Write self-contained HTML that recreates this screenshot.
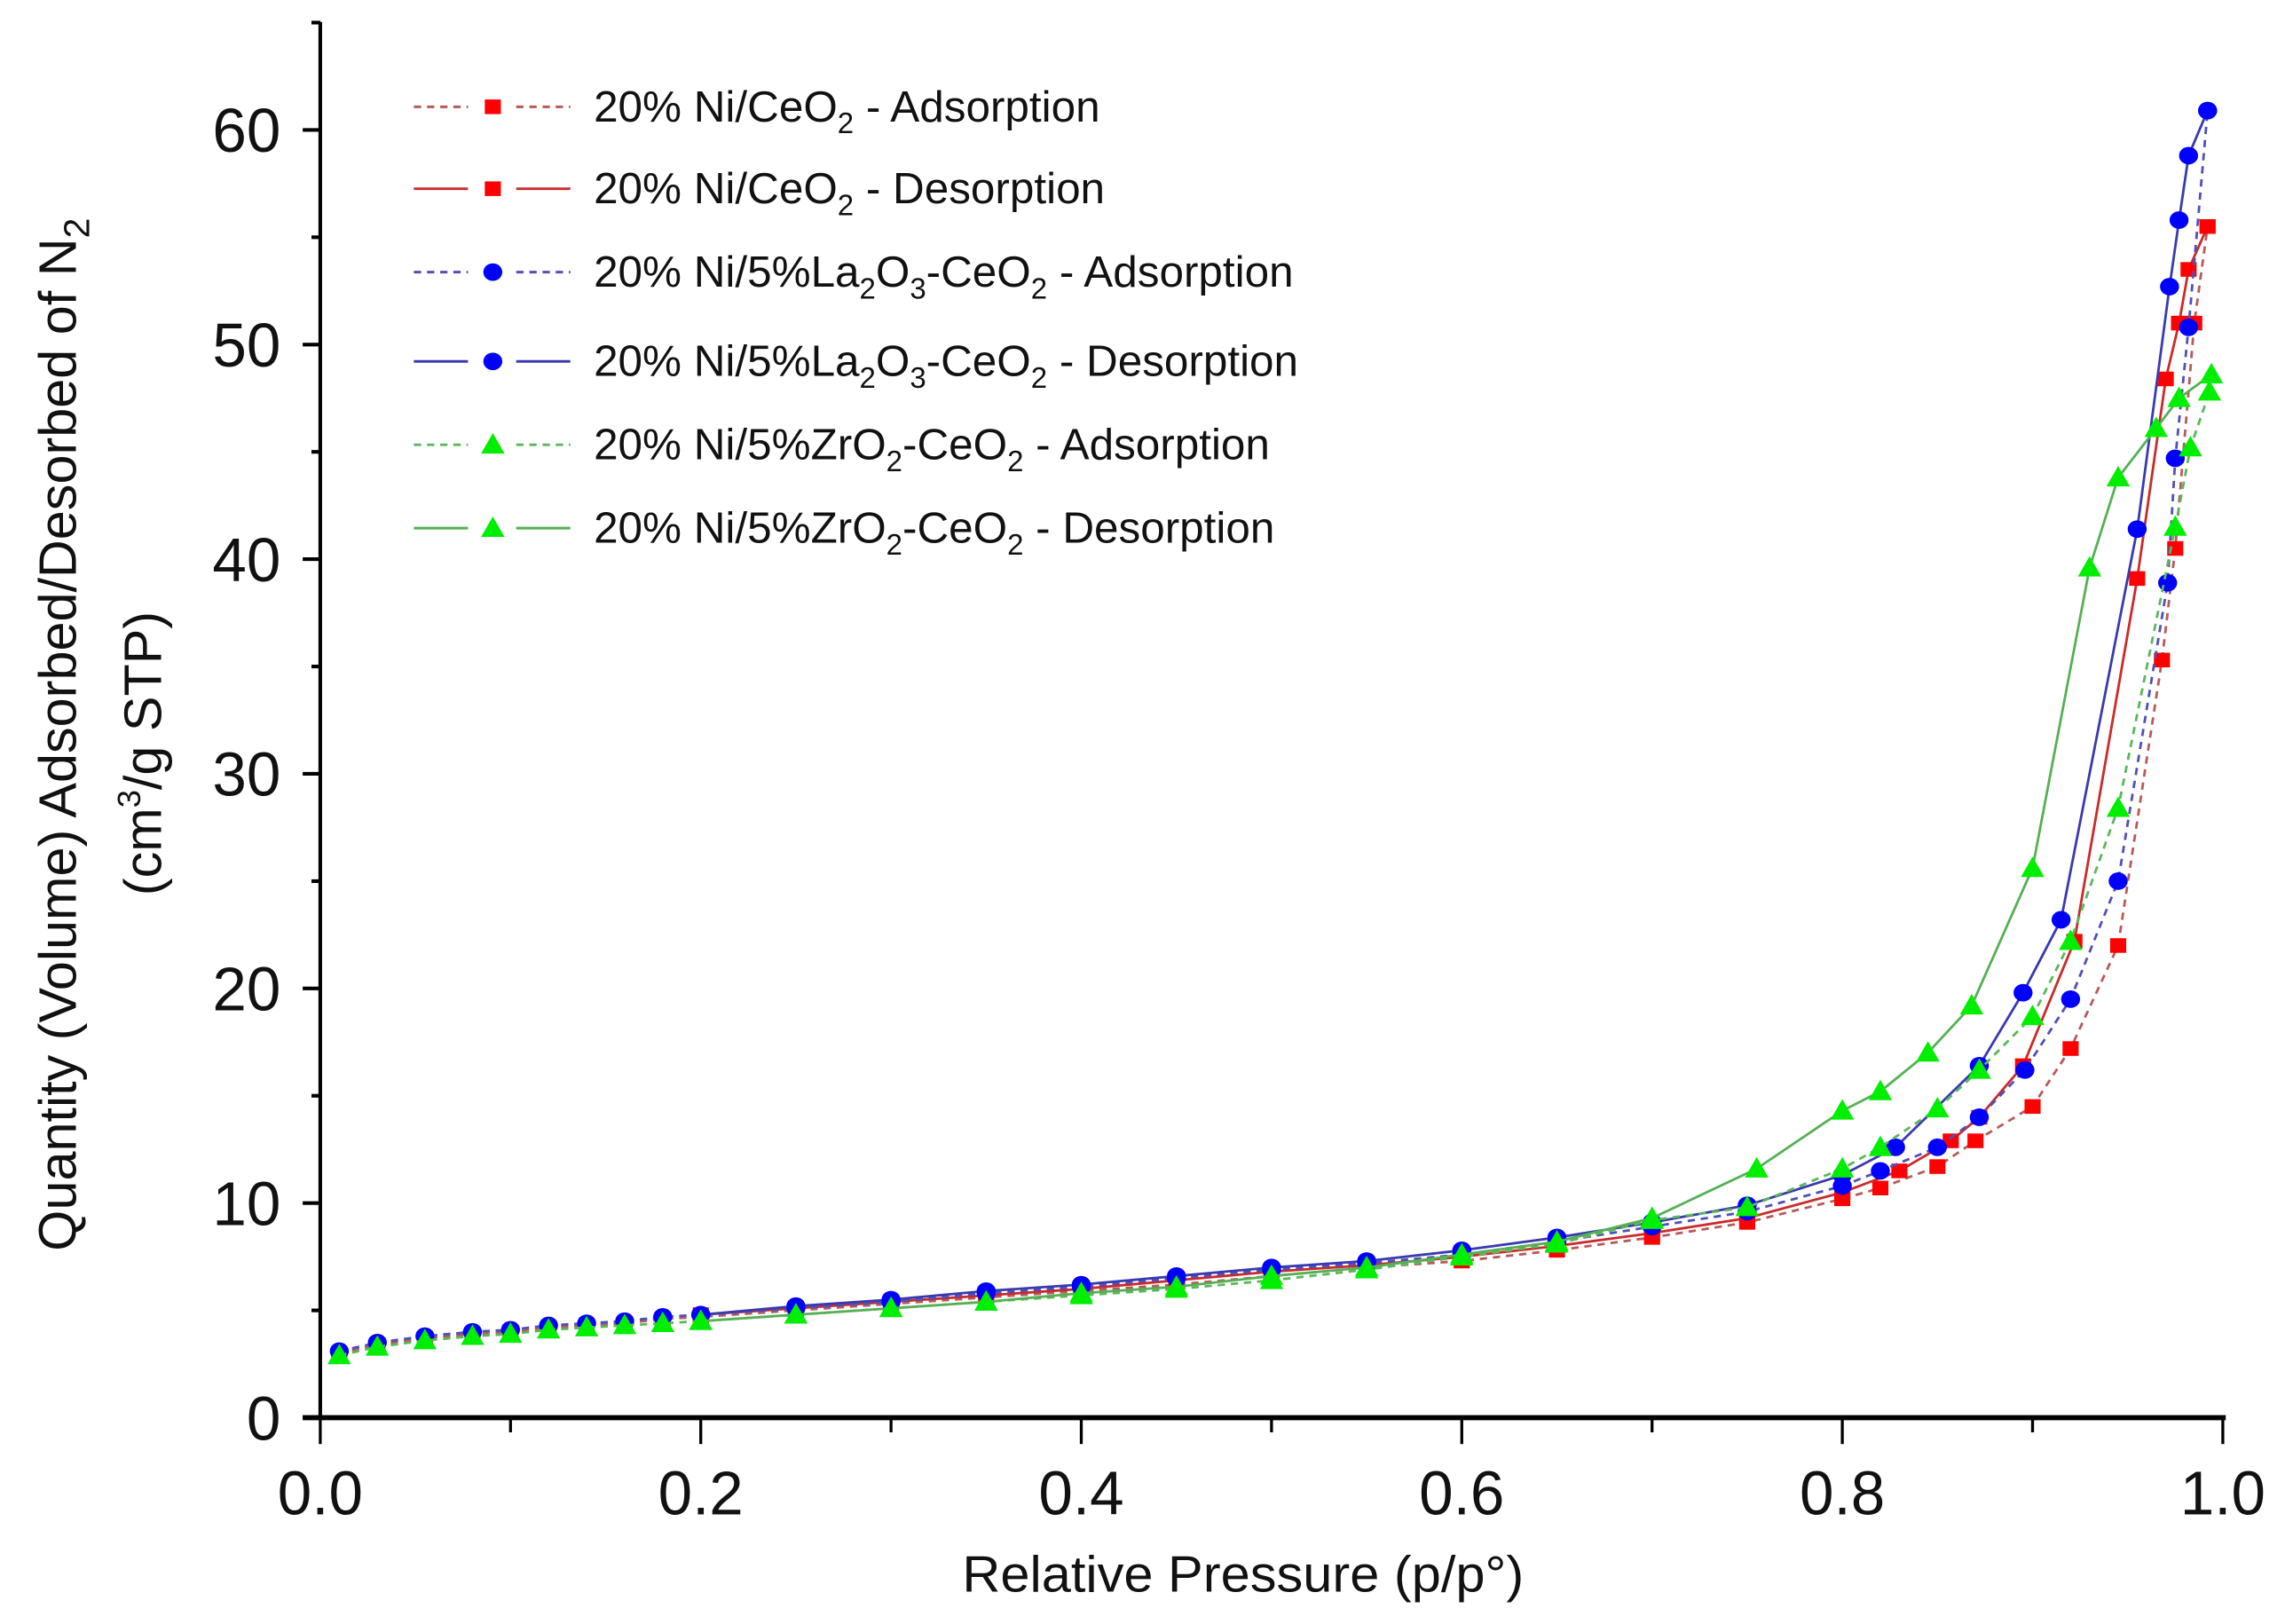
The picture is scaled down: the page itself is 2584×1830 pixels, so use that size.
<!DOCTYPE html>
<html><head><meta charset="utf-8"><style>
html,body{margin:0;padding:0;background:#fff;}
svg{display:block;font-family:"Liberation Sans",Arial,sans-serif;}
</style></head><body>
<svg id="chart" width="2584" height="1830" viewBox="0 0 1568 1110" preserveAspectRatio="none" xmlns="http://www.w3.org/2000/svg">
<g id="axes"></g>
<g id="series"></g>
<g id="legend"></g>
<text x="850" y="1088" font-size="35" text-anchor="middle" fill="#111" textLength="384" lengthAdjust="spacingAndGlyphs">Relative Pressure (p/p°)</text>
<text transform="translate(52,502) rotate(-90)" font-size="36" text-anchor="middle" fill="#111">Quantity (Volume)  Adsorbed/Desorbed of N<tspan font-size="25" dy="9">2</tspan></text>
<text transform="translate(110,515) rotate(-90)" font-size="36" text-anchor="middle" fill="#111">(cm<tspan font-size="22" dy="-14">3</tspan><tspan dy="14">/g STP)</tspan></text>
</svg>
<script>
const xTicks = [0.0, 0.2, 0.4, 0.6, 0.8, 1.0];
const xTickLabels = ["0.0", "0.2", "0.4", "0.6", "0.8", "1.0"];
const yTicks = [0, 10, 20, 30, 40, 50, 60];
const yTickLabels = ["0", "10", "20", "30", "40", "50", "60"];

const ceAdsP = [0.01,0.03,0.055,0.08,0.1,0.12,0.14,0.16,0.18,0.2,0.25,0.3,0.35,0.4,0.45,0.5,0.55,0.6,0.65,0.7,0.75,0.8,0.82,0.85,0.87,0.9,0.92,0.945,0.968,0.975,0.985,0.992];
const ceAdsV = [3.0,3.4,3.7,3.9,4.0,4.2,4.3,4.4,4.6,4.7,5.0,5.3,5.6,5.9,6.2,6.6,7.0,7.3,7.8,8.4,9.1,10.2,10.7,11.7,12.9,14.5,17.2,22.0,35.3,40.5,51.0,55.5];
const ceDesP = [0.992,0.982,0.977,0.97,0.955,0.922,0.895,0.872,0.857,0.83,0.8,0.75,0.7,0.65,0.6,0.55,0.5,0.45,0.4,0.35,0.3,0.25,0.2];
const ceDesV = [55.5,53.5,51.0,48.4,39.1,22.2,16.4,14.0,12.9,11.5,10.5,9.3,8.6,8.0,7.5,7.1,6.8,6.4,6.0,5.7,5.4,5.1,4.8];

const laAdsP = [0.01,0.03,0.055,0.08,0.1,0.12,0.14,0.16,0.18,0.2,0.25,0.3,0.35,0.4,0.45,0.5,0.55,0.6,0.65,0.7,0.75,0.8,0.82,0.85,0.872,0.896,0.92,0.945,0.971,0.975,0.982,0.992];
const laAdsV = [3.1,3.5,3.8,4.0,4.1,4.3,4.4,4.5,4.7,4.8,5.1,5.4,5.8,6.1,6.5,6.9,7.2,7.6,8.2,8.9,9.6,10.8,11.5,12.6,14.0,16.2,19.5,25.0,38.9,44.7,50.8,60.9];
const laDesP = [0.992,0.982,0.977,0.972,0.955,0.915,0.895,0.872,0.828,0.8,0.75,0.7,0.65,0.6,0.55,0.5,0.45,0.4,0.35,0.3,0.25,0.2];
const laDesV = [60.9,58.8,55.8,52.7,41.4,23.2,19.8,16.4,12.6,11.3,9.9,9.1,8.4,7.8,7.3,7.0,6.6,6.2,5.9,5.5,5.2,4.8];

const zrAdsP = [0.01,0.03,0.055,0.08,0.1,0.12,0.14,0.16,0.18,0.2,0.25,0.3,0.35,0.4,0.45,0.5,0.55,0.6,0.65,0.7,0.75,0.8,0.82,0.85,0.872,0.9,0.92,0.945,0.975,0.983,0.993];
const zrAdsV = [2.9,3.3,3.6,3.8,3.9,4.1,4.2,4.3,4.4,4.5,4.8,5.1,5.4,5.7,6.0,6.4,6.9,7.5,8.1,9.2,9.8,11.6,12.6,14.4,16.2,18.7,22.2,28.4,41.5,45.2,47.8];
const zrDesP = [0.994,0.977,0.965,0.945,0.93,0.9,0.868,0.845,0.82,0.8,0.755,0.7,0.65,0.6,0.55,0.5,0.45,0.4,0.35,0.3,0.25,0.2];
const zrDesV = [48.6,47.5,46.1,43.8,39.6,25.6,19.2,17.0,15.2,14.3,11.6,9.3,8.2,7.6,7.0,6.6,6.1,5.8,5.4,5.1,4.8,4.5];

const NS = "http://www.w3.org/2000/svg";
const X0 = 219, X1 = 1520, Y0 = 969, YS = 14.67;
function sx(p){ return X0 + (X1 - X0) * p; }
function sy(v){ return Y0 - YS * v; }
function mk(tag, attrs, parent){
  const e = document.createElementNS(NS, tag);
  for (const k in attrs) e.setAttribute(k, attrs[k]);
  parent.appendChild(e);
  return e;
}
const axes = document.getElementById('axes');
let e;
e = mk('line', {x1:X0, y1:15, x2:X0, y2:Y0, stroke:'#000', 'stroke-width':2.5}, axes);


e = mk('line', {x1:X0-12, y1:Y0, x2:X1+2, y2:Y0, stroke:'#000', 'stroke-width':3.5}, axes);


xTicks.forEach((t, i) => {
  const x = sx(t);
  const l = mk('line', {x1:x, y1:Y0, x2:x, y2:Y0+18, stroke:'#000', 'stroke-width':2}, axes);
  
  
  const tx = mk('text', {x:x, y:Y0+66, 'font-size':42, 'text-anchor':'middle', fill:'#111'}, axes);
  tx.textContent = xTickLabels[i];
  
  
  if (i < xTicks.length - 1) {
    const xm = sx(t + 0.1);
    const m = mk('line', {x1:xm, y1:Y0, x2:xm, y2:Y0+10, stroke:'#000', 'stroke-width':2}, axes);
    
    
  }
});
yTicks.forEach((t, i) => {
  const y = sy(t);
  const l = mk('line', {x1:X0-12, y1:y, x2:X0, y2:y, stroke:'#000', 'stroke-width':2.5}, axes);
  
  
  const tx = mk('text', {x:X0-27, y:y+15, 'font-size':42, 'text-anchor':'end', fill:'#111'}, axes);
  tx.textContent = yTickLabels[i];
  
  
  const ym = sy(t + 5);
  if (ym > 15) {
    const m = mk('line', {x1:X0-6, y1:ym, x2:X0, y2:ym, stroke:'#000', 'stroke-width':2.5}, axes);
    
    
  }
});

const seriesG = document.getElementById('series');
function marker(g, type, x, y, color){
  let m;
  if (type === 'sq') m = mk('rect', {x:x-5.5, y:y-5, width:11, height:10, fill:color}, g);
  else if (type === 'ci') m = mk('ellipse', {cx:x, cy:y, rx:6.5, ry:6, fill:color}, g);
  else m = mk('polygon', {points:`${x},${y-8} ${x-8},${y+6} ${x+8},${y+6}`, fill:color}, g);
  return m;
}
function drawSeries(name, P, V, lineColor, dash, mtype, mcolor){
  const g = mk('g', {}, seriesG);
  
  
  const pts = P.map((p, i) => sx(p).toFixed(1) + ',' + sy(V[i]).toFixed(1)).join(' ');
  const pl = mk('polyline', {points:pts, fill:'none', stroke:lineColor, 'stroke-width':1.7, 'stroke-dasharray':dash}, g);
  
  
  P.forEach((p, i) => {
    const m = marker(g, mtype, sx(p), sy(V[i]), mcolor);
    
    
  });
}
drawSeries('ce-adsorption', ceAdsP, ceAdsV, '#b85a5a', '5,4', 'sq', '#ff0000');
drawSeries('ce-desorption', ceDesP, ceDesV, '#cc2a2a', 'none', 'sq', '#ff0000');
drawSeries('la-adsorption', laAdsP, laAdsV, '#5050b8', '5,4', 'ci', '#0000ff');
drawSeries('la-desorption', laDesP, laDesV, '#3a3ab0', 'none', 'ci', '#0000ff');
drawSeries('zr-adsorption', zrAdsP, zrAdsV, '#5ab85a', '5,4', 'tr', '#00ee00');
drawSeries('zr-desorption', zrDesP, zrDesV, '#55b055', 'none', 'tr', '#00ee00');

const legend = document.getElementById('legend');
const sub = (s) => '<tspan font-size="20" dy="8">' + s + '</tspan><tspan dy="-8">';
const legRows = [
  {y:73, c:'#b85a5a', d:'5,4', m:'sq', mc:'#ff0000', html:'20% Ni/CeO' + sub('2') + ' - Adsorption</tspan>', n:'ce-adsorption', w:348},
  {y:129, c:'#cc2a2a', d:'none', m:'sq', mc:'#ff0000', html:'20% Ni/CeO' + sub('2') + ' - Desorption</tspan>', n:'ce-desorption', w:352},
  {y:186, c:'#5050b8', d:'5,4', m:'ci', mc:'#0000ff', html:'20% Ni/5%La' + sub('2') + 'O</tspan>' + '<tspan font-size="20" dy="8">3</tspan><tspan dy="-8">-CeO</tspan>' + '<tspan font-size="20" dy="8">2</tspan><tspan dy="-8"> - Adsorption</tspan>', n:'la-adsorption', w:480},
  {y:247, c:'#3a3ab0', d:'none', m:'ci', mc:'#0000ff', html:'20% Ni/5%La' + sub('2') + 'O</tspan>' + '<tspan font-size="20" dy="8">3</tspan><tspan dy="-8">-CeO</tspan>' + '<tspan font-size="20" dy="8">2</tspan><tspan dy="-8"> - Desorption</tspan>', n:'la-desorption', w:484},
  {y:304, c:'#5ab85a', d:'5,4', m:'tr', mc:'#00ee00', html:'20% Ni/5%ZrO' + sub('2') + '-CeO</tspan>' + '<tspan font-size="20" dy="8">2</tspan><tspan dy="-8"> - Adsorption</tspan>', n:'zr-adsorption', w:464},
  {y:361, c:'#55b055', d:'none', m:'tr', mc:'#00ee00', html:'20% Ni/5%ZrO' + sub('2') + '-CeO</tspan>' + '<tspan font-size="20" dy="8">2</tspan><tspan dy="-8"> - Desorption</tspan>', n:'zr-desorption', w:468}
];
legRows.forEach(r => {
  const g = mk('g', {}, legend);
  
  
  mk('line', {x1:283, y1:r.y, x2:320, y2:r.y, stroke:r.c, 'stroke-width':1.8, 'stroke-dasharray':r.d}, g);
  mk('line', {x1:353, y1:r.y, x2:390, y2:r.y, stroke:r.c, 'stroke-width':1.8, 'stroke-dasharray':r.d}, g);
  marker(g, r.m, 337, r.y, r.mc);
  const t = mk('text', {x:406, y:r.y+10, 'font-size':30, fill:'#111'}, g);
  t.innerHTML = r.html;
});
</script>
</body></html>
